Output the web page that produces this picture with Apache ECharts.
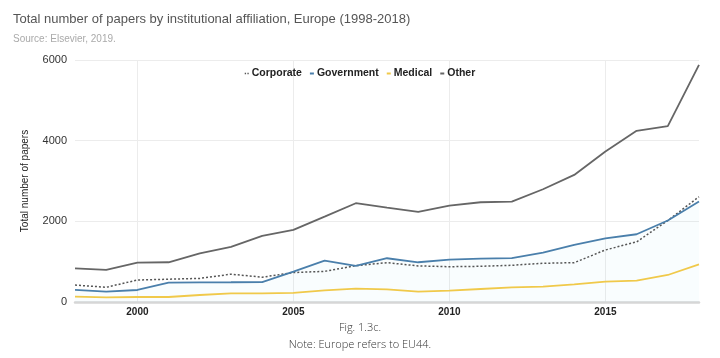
<!DOCTYPE html>
<html>
<head>
<meta charset="utf-8">
<script src="https://cdn.jsdelivr.net/npm/echarts@6/dist/echarts.min.js"></script>
<style>
html,body{margin:0;padding:0;background:#fff;}
#c{width:720px;height:358px;}
</style>
</head>
<body>
<div id="c"></div>
<script>
const years = ['1998','1999','2000','2001','2002','2003','2004','2005','2006','2007','2008','2009','2010','2011','2012','2013','2014','2015','2016','2017','2018'];
const corporate = [420,365,545,565,585,690,615,730,760,900,975,895,875,885,910,960,975,1290,1490,2020,2610];
const government = [300,258,298,480,488,490,495,755,1025,895,1085,985,1050,1075,1090,1225,1415,1580,1680,2020,2490];
const medical = [132,116,124,124,174,215,215,225,289,331,314,256,281,322,364,381,438,504,530,670,935];
const other = [836,795,975,985,1208,1365,1638,1787,2117,2449,2340,2233,2390,2473,2489,2796,3151,3730,4243,4360,5880];
const yTicks = [0,2000,4000,6000];

const chart = echarts.init(document.getElementById('c'), null, {renderer:'canvas'});
const showYear = (i, v) => Number(v) % 5 === 0;
chart.setOption({
  animation:false,
  backgroundColor:'#fff',
  title:[
    {text:'Total number of papers by institutional affiliation, Europe (1998-2018)', left:8, top:8,
     textStyle:{fontFamily:'Liberation Sans, Arial', fontSize:13, fontWeight:'normal', color:'#555'}},
    {text:'Source: Elsevier, 2019.', left:8, top:29,
     textStyle:{fontFamily:'Liberation Sans, Arial', fontSize:10, fontWeight:'normal', color:'#aaa'}},
    {text:'Fig. 1.3c.', left:'center', top:317,
     textStyle:{fontFamily:'Open Sans', fontSize:11, fontWeight:300, color:'#333'}},
    {text:'Note: Europe refers to EU44.', left:'center', top:334,
     textStyle:{fontFamily:'Open Sans', fontSize:11, fontWeight:300, color:'#333'}}
  ],
  legend:{
    top:63, left:'center', itemGap:8, itemWidth:4, itemHeight:2,
    textStyle:{fontFamily:'Liberation Sans, Arial', fontSize:10.5, fontWeight:'bold', color:'#222', padding:[0,0,0,-2]},
    data:[
      {name:'Corporate', icon:'path://M0,0h2v2h-2zM4,0h2v2h-2z'},
      {name:'Government', icon:'rect'},
      {name:'Medical', icon:'rect'},
      {name:'Other', icon:'rect'}
    ]
  },
  grid:{left:75, right:21, top:60, bottom:56},
  xAxis:{
    type:'category', data:years, boundaryGap:false,
    axisLine:{lineStyle:{color:'#d6d6d6', width:2.5}},
    axisTick:{show:false},
    axisLabel:{interval:showYear, fontFamily:'Liberation Sans, Arial', fontSize:10, fontWeight:'bold', color:'#222', margin:5},
    splitLine:{show:true, interval:showYear, lineStyle:{color:'#ececec', width:1}}
  },
  yAxis:{
    type:'value', min:0, max:6000, interval:2000,
    name:'Total number of papers', nameLocation:'middle', nameGap:45, nameRotate:90,
    nameTextStyle:{fontFamily:'Liberation Sans, Arial', fontSize:10, color:'#222'},
    axisLine:{show:false}, axisTick:{show:false},
    axisLabel:{fontFamily:'Liberation Sans, Arial', fontSize:11, color:'#333', margin:8,
      formatter:v => yTicks.includes(v) ? String(v) : ''},
    splitLine:{lineStyle:{color:'#ececec', width:1}}
  },
  series:[
    {name:'Corporate', type:'line', data:corporate, symbol:'none', color:'#555',
     lineStyle:{color:'#555', width:1.5, type:[2,2]}},
    {name:'Government', type:'line', data:government, symbol:'none', color:'#4a7fab',
     lineStyle:{color:'#4a7fab', width:1.8},
     areaStyle:{color:'rgba(120,200,235,0.06)'}},
    {name:'Medical', type:'line', data:medical, symbol:'none', color:'#f0c94a',
     lineStyle:{color:'#f0c94a', width:1.8}},
    {name:'Other', type:'line', data:other, symbol:'none', color:'#666',
     lineStyle:{color:'#666', width:1.8}}
  ]
});
</script>
</body>
</html>
